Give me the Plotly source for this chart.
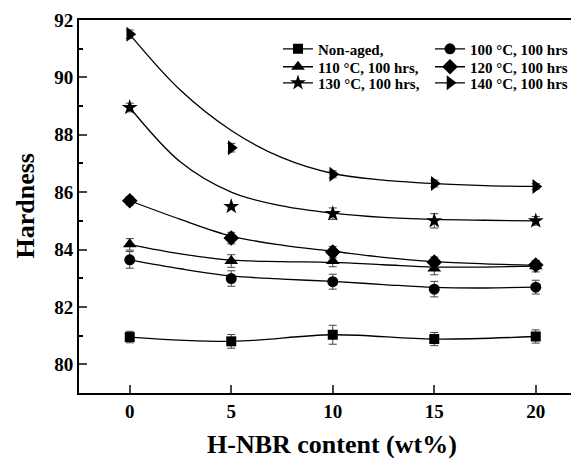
import plotly.graph_objects as go

# H-NBR content (wt%)
content = [0, 5, 10, 15, 20]
fit_x = [0, 2.5, 5, 7.5, 10, 12.5, 15, 17.5, 20]

names = ["Non-aged,", "100 °C, 100 hrs", "110 °C, 100 hrs,", "120 °C, 100 hrs",
         "130 °C, 100 hrs,", "140 °C, 100 hrs"]
symbols = ["square", "circle", "triangle-up", "diamond", "star", "triangle-right"]
marker_sizes = [10, 11, 12, 12, 12, 13]

hard_nonaged = [80.95, 80.80, 81.03, 80.88, 80.97]
hard_100 = [83.64, 82.99, 82.88, 82.62, 82.69]
hard_110 = [84.18, 83.60, 83.60, 83.34, 83.42]
hard_120 = [85.70, 84.40, 83.91, 83.56, 83.46]
hard_130 = [88.95, 85.50, 85.25, 85.00, 85.00]
hard_140 = [91.50, 87.55, 86.62, 86.30, 86.20]

err_nonaged = [0.20, 0.24, 0.33, 0.23, 0.23]
err_100 = [0.29, 0.27, 0.26, 0.27, 0.24]
err_110 = [0.20, 0.22, 0.20, 0.22, 0.20]
err_120 = [0.15, 0.20, 0.20, 0.18, 0.15]
err_130 = [0.15, 0.05, 0.20, 0.25, 0.15]
err_140 = [0.15, 0.15, 0.12, 0.12, 0.10]

# fitted curves
fit_nonaged = None  # drawn through the points
fit_100 = [83.64, 83.33, 83.08, 82.97, 82.89, 82.78, 82.68, 82.66, 82.69]
fit_110 = [84.17, 83.85, 83.63, 83.58, 83.55, 83.47, 83.39, 83.39, 83.42]
fit_120 = [85.70, 85.05, 84.47, 84.15, 83.94, 83.73, 83.58, 83.50, 83.45]
fit_130 = [88.95, 87.05, 86.00, 85.52, 85.27, 85.12, 85.05, 85.02, 85.00]
fit_140 = [91.50, 89.55, 88.15, 87.20, 86.65, 86.42, 86.30, 86.23, 86.20]

x_title = "H-NBR content (wt%)"
y_title = "Hardness"

values = [hard_nonaged, hard_100, hard_110, hard_120, hard_130, hard_140]
errors = [err_nonaged, err_100, err_110, err_120, err_130, err_140]
fits = [fit_nonaged, fit_100, fit_110, fit_120, fit_130, fit_140]
legend_ids = ["legend", "legend2", "legend3", "legend4", "legend5", "legend6"]

FONT = "Times New Roman, Liberation Serif, serif"

fig = go.Figure()


def gapped(seq, fill=None):
    out = []
    for i, v in enumerate(seq):
        if i:
            out.append(fill)
        out.append(v)
    return out


for name, sym, ms, ys, es, fy, lg in zip(names, symbols, marker_sizes, values, errors, fits, legend_ids):
    if fy is None:
        fig.add_trace(go.Scatter(
            x=content, y=ys, mode="lines+markers", name=name, legend=lg,
            line=dict(color="black", width=1.3, shape="spline"),
            marker=dict(symbol=sym, size=ms, color="black"),
            error_y=dict(type="data", array=es, color="#444", thickness=1, width=4),
        ))
    else:
        fig.add_trace(go.Scatter(
            x=fit_x, y=fy, mode="lines", showlegend=False, hoverinfo="skip",
            line=dict(color="black", width=1.3, shape="spline"),
        ))
        fig.add_trace(go.Scatter(
            x=gapped(content), y=gapped(ys), mode="lines+markers", name=name, legend=lg,
            connectgaps=False,
            line=dict(color="black", width=1.3),
            marker=dict(symbol=sym, size=ms, color="black"),
            error_y=dict(type="data", array=gapped(es, 0), color="#444", thickness=1, width=4),
        ))

legend_common = dict(
    font=dict(family=FONT, size=15, color="black", weight="bold"),
    bgcolor="rgba(0,0,0,0)", borderwidth=0, xanchor="left", yanchor="middle",
    orientation="v", itemclick=False, itemdoubleclick=False,
)
col_x = [0.398, 0.702]
row_y = [0.922, 0.874, 0.831]
legend_layout = {}
for i, lg in enumerate(legend_ids):
    legend_layout[lg] = dict(x=col_x[i % 2], y=row_y[i // 2], **legend_common)

title_font = dict(family=FONT, size=26, color="black", weight="bold")

# page body has an 8px margin; figure sized so the page matches 579x459
fig.update_layout(
    width=571, height=451,
    margin=dict(l=71, r=0, t=12, b=66),
    paper_bgcolor="white", plot_bgcolor="white",
    font=dict(family=FONT, color="black"),
    **legend_layout,
    xaxis=dict(
        range=[-2.5, 22.13], tickvals=content, ticks="inside", ticklen=8, tickwidth=2,
        showline=True, linewidth=2, linecolor="black", mirror=True,
        showgrid=False, zeroline=False, automargin=False,
        tickfont=dict(family=FONT, size=19, color="black", weight="bold"),
    ),
    yaxis=dict(
        range=[79, 92], dtick=2, ticks="inside", ticklen=8, tickwidth=2,
        minor=dict(dtick=1, ticks="inside", ticklen=4, tickwidth=2, tickcolor="black"),
        showline=True, linewidth=2, linecolor="black", mirror=False,
        showgrid=False, zeroline=False, automargin=False,
        tickfont=dict(family=FONT, size=19, color="black", weight="bold"),
    ),
    annotations=[
        dict(text=x_title, xref="paper", yref="paper", x=0.506, y=-0.137,
             xanchor="center", yanchor="middle", showarrow=False, font=title_font),
        dict(text=y_title, xref="paper", yref="paper", x=-0.108, y=0.5,
             xanchor="center", yanchor="middle", textangle=-90, showarrow=False,
             font=title_font),
    ],
)

fig.write_html("out.html")
